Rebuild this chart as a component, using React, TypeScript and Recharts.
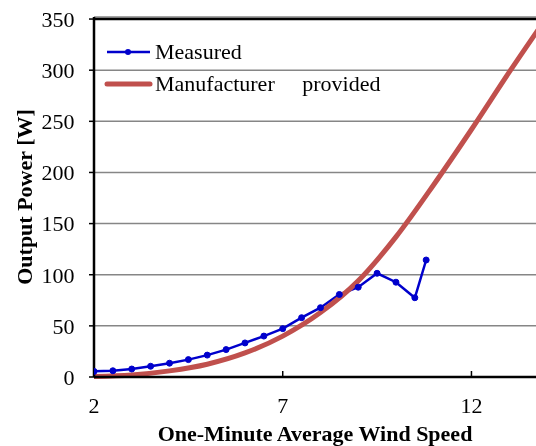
import {
  CartesianGrid,
  Legend,
  Line,
  LineChart,
  ReferenceLine,
  XAxis,
  YAxis,
} from "recharts";

const FONT = '"Liberation Serif", "Times New Roman", serif';
const BLUE = "#0000CC";
const RED = "#C0504D";

// measured output power, sampled every 0.5 m/s
const measuredSpeed = [
  2, 2.5, 3, 3.5, 4, 4.5, 5, 5.5, 6, 6.5, 7, 7.5, 8, 8.5, 9, 9.5, 10, 10.5, 10.8,
];
const measuredPower = [
  5.5, 6.1, 7.8, 10.5, 13.5, 17, 21.4, 26.8, 33.3, 40, 47.3, 58, 67.8, 80.7,
  87.8, 101.4, 92.7, 77.5, 114.4,
];

// manufacturer power curve
const ratedSpeed = [2, 3, 4, 5, 6, 7, 8, 9, 10, 11, 12, 13, 14];
const ratedPower = [0.5, 2, 6, 12.5, 23.5, 40, 63, 94, 137, 188, 242, 298, 352];

const xTicks = [2, 7, 12];
const yTicks = [0, 50, 100, 150, 200, 250, 300, 350];

const measured = measuredSpeed.map((x, i) => ({ x, y: measuredPower[i] }));
const rated = ratedSpeed.map((x, i) => ({ x, y: ratedPower[i] }));

function LegendBox() {
  return (
    <svg width={300} height={70} style={{ display: "block" }}>
      <line x1={7} y1={18} x2={50} y2={18} stroke={BLUE} strokeWidth={2.5} />
      <circle cx={28} cy={18} r={3} fill={BLUE} />
      <text x={55} y={25} fontFamily={FONT} fontSize={22} fill="#000">
        Measured
      </text>
      <line
        x1={7}
        y1={50}
        x2={50}
        y2={50}
        stroke={RED}
        strokeWidth={5}
        strokeLinecap="round"
      />
      <text
        x={55}
        y={57}
        fontFamily={FONT}
        fontSize={22}
        fill="#000"
        style={{ whiteSpace: "pre" }}
      >
        {"Manufacturer     provided"}
      </text>
    </svg>
  );
}

export default function App() {
  return (
    <div style={{ position: "fixed", left: 0, top: 0 }}>
      <LineChart
        width={536}
        height={446}
        margin={{ top: 17, right: 0, bottom: 0, left: 0 }}
      >
        <CartesianGrid
          vertical={false}
          stroke="#868686"
          strokeWidth={1.5}
        />
        <XAxis
          dataKey="x"
          type="number"
          domain={[2, 13.71]}
          allowDataOverflow
          ticks={xTicks}
          height={69}
          tickSize={-6}
          tickMargin={26}
          axisLine={{ stroke: "#000", strokeWidth: 2.5 }}
          tickLine={{ stroke: "#000", strokeWidth: 1.5 }}
          tick={{ fontSize: 22, fill: "#000", fontFamily: FONT }}
          label={{
            value: "One-Minute Average Wind Speed",
            position: "insideBottom",
            offset: 5,
            style: {
              fontSize: 22,
              fontWeight: "bold",
              fill: "#000",
              fontFamily: FONT,
            },
          }}
        />
        <YAxis
          type="number"
          domain={[0, 350]}
          ticks={yTicks}
          width={94}
          tickSize={5}
          tickMargin={14.5}
          axisLine={{ stroke: "#000", strokeWidth: 2.5 }}
          tickLine={{ stroke: "#000", strokeWidth: 1.5 }}
          tick={{ fontSize: 22, fill: "#000", fontFamily: FONT }}
          label={{
            content: () => (
              <text
                x={24}
                y={197}
                transform="rotate(-90, 24, 197)"
                textAnchor="middle"
                dominantBaseline="central"
                fontFamily={FONT}
                fontSize={22}
                fontWeight="bold"
                fill="#000"
              >
                Output Power [W]
              </text>
            ),
          }}
        />
        <ReferenceLine y={350} stroke="#000" strokeWidth={2.5} />
        <Legend
          layout="horizontal"
          verticalAlign="middle"
          align="center"
          wrapperStyle={{ left: 100, top: 34, width: 300 }}
          content={() => <LegendBox />}
        />
        <Line
          data={measured}
          dataKey="y"
          name="Measured"
          type="linear"
          stroke={BLUE}
          strokeWidth={2.5}
          dot={{ r: 3, fill: BLUE, stroke: BLUE, strokeWidth: 1 }}
          isAnimationActive={false}
        />
        <Line
          data={rated}
          dataKey="y"
          name="Manufacturer provided"
          type="monotone"
          stroke={RED}
          strokeWidth={5}
          dot={false}
          isAnimationActive={false}
        />
      </LineChart>
    </div>
  );
}
